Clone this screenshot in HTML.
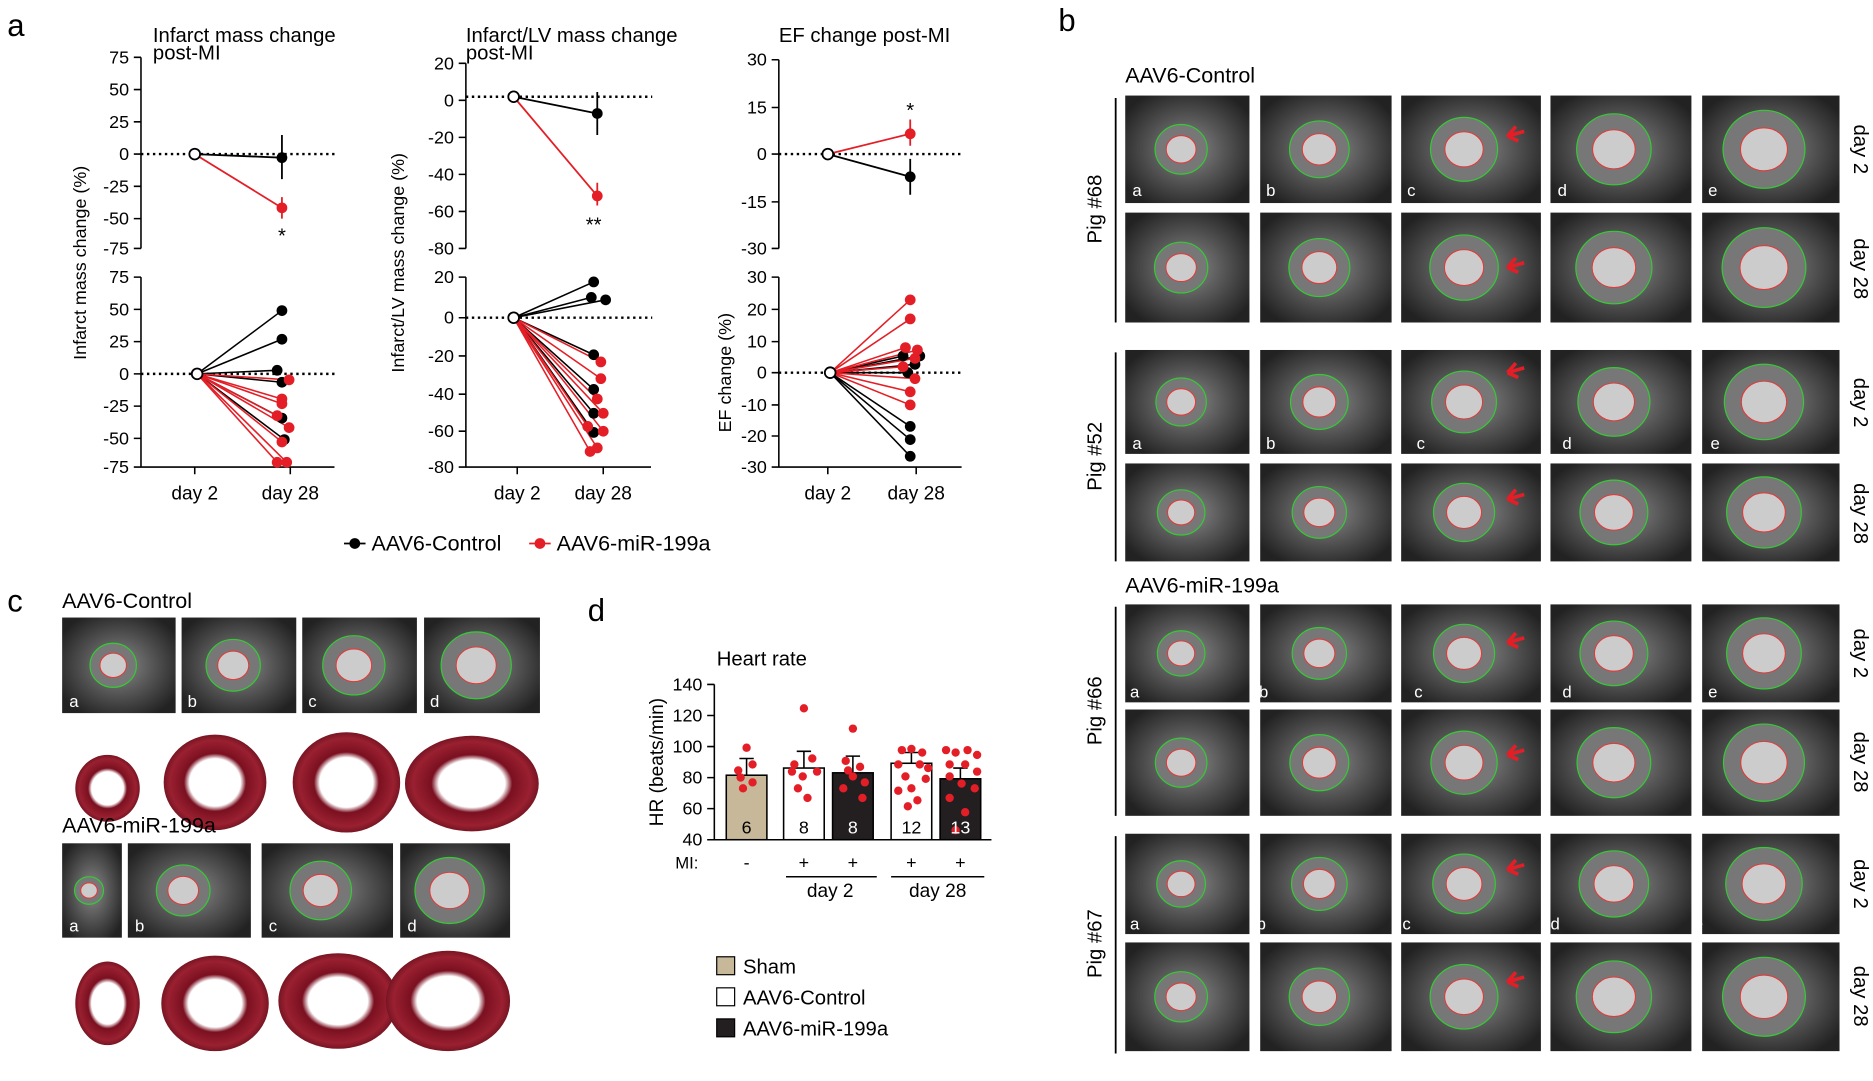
<!DOCTYPE html>
<html><head><meta charset="utf-8">
<style>
html,body{margin:0;padding:0;background:#fff;}
svg{display:block;}
text{font-family:"Liberation Sans",Arial,sans-serif;}
</style></head>
<body>
<svg id="s" width="1873" height="1081" viewBox="0 0 1568 905" xmlns="http://www.w3.org/2000/svg">
<defs>
<radialGradient id="mri" cx="50%" cy="50%" r="60%">
<stop offset="0" stop-color="#8a8a8a"/><stop offset="0.5" stop-color="#555"/><stop offset="1" stop-color="#222"/>
</radialGradient>
<radialGradient id="heart" cx="50%" cy="50%" r="55%">
<stop offset="0" stop-color="#fff"/><stop offset="0.45" stop-color="#fff"/><stop offset="0.55" stop-color="#7a1020"/><stop offset="0.8" stop-color="#9a2030"/><stop offset="1" stop-color="#5a0c18"/>
</radialGradient>
</defs>
<g id="imgs"></g>
<g font-size="17" fill="#000">
<text x="6" y="30" font-size="26">a</text>
<text x="886" y="26" font-size="26">b</text>
<text x="6" y="512" font-size="26">c</text>
<text x="492" y="520" font-size="26">d</text>

<text x="128" y="35">Infarct mass change</text>
<text x="128" y="50">post-MI</text>
<g stroke="#000" stroke-width="1.3" fill="none">
<path d="M118 48V208M112 48h6M112 75h6M112 102h6M112 129h6M112 156h6M112 183h6M112 208h6"/>
<path d="M118 232V391H280M112 232h6M112 259h6M112 286h6M112 313h6M112 340h6M112 367h6M112 391h6M163 391v6M243 391v6"/>
<path d="M118 129H282M118 313H282" stroke-dasharray="2,3" stroke-width="2"/>
</g>
<g font-size="15" text-anchor="end">
<text x="108" y="53">75</text><text x="108" y="80">50</text><text x="108" y="107">25</text><text x="108" y="134">0</text><text x="108" y="161">-25</text><text x="108" y="188">-50</text><text x="108" y="213">-75</text>
<text x="108" y="237">75</text><text x="108" y="264">50</text><text x="108" y="291">25</text><text x="108" y="318">0</text><text x="108" y="345">-25</text><text x="108" y="372">-50</text><text x="108" y="396">-75</text>
</g>
<text x="163" y="418" font-size="16" text-anchor="middle">day 2</text>
<text x="243" y="418" font-size="16" text-anchor="middle">day 28</text>
<text transform="translate(72,220) rotate(-90)" font-size="15" text-anchor="middle">Infarct mass change (%)</text>
<g stroke-width="1.5">
<path d="M163 129L236 132M236 113V150" stroke="#000"/>
<path d="M163 129L236 174M236 165V183" stroke="#e41e26"/>
<circle cx="236" cy="132" r="4.5" fill="#000"/><circle cx="236" cy="174" r="4.5" fill="#e41e26"/>
<circle cx="163" cy="129" r="4.5" fill="#fff" stroke="#000"/>
</g>
<text x="236" y="203" text-anchor="middle">*</text>
<g id="a1b"></g>

<text x="390" y="35">Infarct/LV mass change</text>
<text x="390" y="50">post-MI</text>
<g stroke="#000" stroke-width="1.3" fill="none">
<path d="M390 53V208M384 53h6M384 84h6M384 115h6M384 146h6M384 177h6M384 208h6"/>
<path d="M390 232V391H545M384 232h6M384 266h6M384 298h6M384 330h6M384 361h6M384 391h6M433 391v6M505 391v6"/>
<path d="M390 81H546M390 266H546" stroke-dasharray="2,3" stroke-width="2"/>
</g>
<g font-size="15" text-anchor="end">
<text x="380" y="58">20</text><text x="380" y="89">0</text><text x="380" y="120">-20</text><text x="380" y="151">-40</text><text x="380" y="182">-60</text><text x="380" y="213">-80</text>
<text x="380" y="237">20</text><text x="380" y="271">0</text><text x="380" y="303">-20</text><text x="380" y="335">-40</text><text x="380" y="366">-60</text><text x="380" y="396">-80</text>
</g>
<text x="433" y="418" font-size="16" text-anchor="middle">day 2</text>
<text x="505" y="418" font-size="16" text-anchor="middle">day 28</text>
<text transform="translate(338,220) rotate(-90)" font-size="15" text-anchor="middle">Infarct/LV mass change (%)</text>
<g stroke-width="1.5">
<path d="M430 81L500 95M500 77V113" stroke="#000"/>
<path d="M430 81L500 164M500 153V172" stroke="#e41e26"/>
<circle cx="500" cy="95" r="4.5" fill="#000"/><circle cx="500" cy="164" r="4.5" fill="#e41e26"/>
<circle cx="430" cy="81" r="4.5" fill="#fff" stroke="#000"/>
</g>
<text x="497" y="194" text-anchor="middle">**</text>
<g id="a2b"></g>

<text x="652" y="35">EF change post-MI</text>
<g stroke="#000" stroke-width="1.3" fill="none">
<path d="M652 50V208M646 50h6M646 90h6M646 129h6M646 169h6M646 208h6"/>
<path d="M652 232V391H805M646 232h6M646 259h6M646 286h6M646 312h6M646 339h6M646 365h6M646 391h6M693 391v6M767 391v6"/>
<path d="M652 129H806M652 312H806" stroke-dasharray="2,3" stroke-width="2"/>
</g>
<g font-size="15" text-anchor="end">
<text x="642" y="55">30</text><text x="642" y="95">15</text><text x="642" y="134">0</text><text x="642" y="174">-15</text><text x="642" y="213">-30</text>
<text x="642" y="237">30</text><text x="642" y="264">20</text><text x="642" y="291">10</text><text x="642" y="317">0</text><text x="642" y="344">-10</text><text x="642" y="370">-20</text><text x="642" y="396">-30</text>
</g>
<text x="693" y="418" font-size="16" text-anchor="middle">day 2</text>
<text x="767" y="418" font-size="16" text-anchor="middle">day 28</text>
<text transform="translate(612,312) rotate(-90)" font-size="15" text-anchor="middle">EF change (%)</text>
<g stroke-width="1.5">
<path d="M693 129L762 148M762 133V163" stroke="#000"/>
<path d="M693 129L762 112M762 100V122" stroke="#e41e26"/>
<circle cx="762" cy="148" r="4.5" fill="#000"/><circle cx="762" cy="112" r="4.5" fill="#e41e26"/>
<circle cx="693" cy="129" r="4.5" fill="#fff" stroke="#000"/>
</g>
<text x="762" y="98" text-anchor="middle">*</text>
<g id="a3b"></g>

<path d="M288 455h18" stroke="#000" stroke-width="1.5"/><circle cx="297" cy="455" r="4.5" fill="#000"/>
<text x="311" y="461" font-size="18">AAV6-Control</text>
<path d="M443 455h18" stroke="#e41e26" stroke-width="1.5"/><circle cx="452" cy="455" r="4.5" fill="#e41e26"/>
<text x="466" y="461" font-size="18">AAV6-miR-199a</text>

<text x="942" y="69" font-size="18">AAV6-Control</text>
<text x="942" y="496" font-size="18">AAV6-miR-199a</text>
<g font-size="17" text-anchor="middle">
<text transform="translate(922,175) rotate(-90)">Pig #68</text>
<text transform="translate(922,382) rotate(-90)">Pig #52</text>
<text transform="translate(922,595) rotate(-90)">Pig #66</text>
<text transform="translate(922,790) rotate(-90)">Pig #67</text>
<text transform="translate(1552,125) rotate(90)">day 2</text>
<text transform="translate(1552,225) rotate(90)">day 28</text>
<text transform="translate(1552,337) rotate(90)">day 2</text>
<text transform="translate(1552,430) rotate(90)">day 28</text>
<text transform="translate(1552,547) rotate(90)">day 2</text>
<text transform="translate(1552,638) rotate(90)">day 28</text>
<text transform="translate(1552,740) rotate(90)">day 2</text>
<text transform="translate(1552,834) rotate(90)">day 28</text>
</g>
<g stroke="#000" stroke-width="1.5">
<path d="M934 82V270M934 295V470M934 508V683M934 700V882"/>
</g>

<text x="52" y="509" font-size="18">AAV6-Control</text>
<text x="52" y="697" font-size="18">AAV6-miR-199a</text>

<text x="600" y="557" font-size="17">Heart rate</text>
<g stroke="#000" stroke-width="1.3" fill="none">
<path d="M598 573V703H830M592 573h6M592 599h6M592 625h6M592 651h6M592 677h6M592 703h6"/>
</g>
<g font-size="15" text-anchor="end">
<text x="588" y="578">140</text><text x="588" y="604">120</text><text x="588" y="630">100</text><text x="588" y="656">80</text><text x="588" y="682">60</text><text x="588" y="708">40</text>
</g>
<text transform="translate(555,638) rotate(-90)" font-size="16" text-anchor="middle">HR (beats/min)</text>
<g stroke="#000" stroke-width="1.3">
<rect x="608" y="649" width="34" height="54" fill="#c8b89a"/>
<rect x="656" y="643" width="34" height="60" fill="#fff"/>
<rect x="697" y="647" width="34" height="56" fill="#231f20"/>
<rect x="746" y="639" width="34" height="64" fill="#fff"/>
<rect x="787" y="652" width="34" height="51" fill="#231f20"/>
<path d="M625 649V635M619 635h12M673 643V629M667 629h12M714 647V633M708 633h12M763 639V630M757 630h12M804 652V643M798 643h12" fill="none"/>
</g>
<g id="dd" fill="#e41e26"></g>
<g font-size="15" text-anchor="middle">
<text x="625" y="698">6</text><text x="673" y="698">8</text><text x="714" y="698" fill="#fff">8</text><text x="763" y="698">12</text><text x="804" y="698" fill="#fff">13</text>
<text x="575" y="727" font-size="14">MI:</text>
<text x="625" y="727">-</text><text x="673" y="727">+</text><text x="714" y="727">+</text><text x="763" y="727">+</text><text x="804" y="727">+</text>
<text x="695" y="751" font-size="16">day 2</text><text x="785" y="751" font-size="16">day 28</text>
</g>
<path d="M658 734H734M746 734H824" stroke="#000" stroke-width="1.3"/>
<rect x="600" y="801" width="15" height="15" fill="#c8b89a" stroke="#000"/>
<rect x="600" y="827" width="15" height="15" fill="#fff" stroke="#000"/>
<rect x="600" y="853" width="15" height="15" fill="#231f20" stroke="#000"/>
<text x="622" y="815" font-size="17">Sham</text>
<text x="622" y="841" font-size="17">AAV6-Control</text>
<text x="622" y="867" font-size="17">AAV6-miR-199a</text>

<g id="lets" font-size="14" fill="#fff">
<text x="948" y="164">a</text><text x="1060" y="164">b</text><text x="1178" y="164">c</text><text x="1304" y="164">d</text><text x="1430" y="164">e</text>
<text x="948" y="376">a</text><text x="1060" y="376">b</text><text x="1186" y="376">c</text><text x="1308" y="376">d</text><text x="1432" y="376">e</text>
<text x="946" y="584">a</text><text x="1054" y="584">b</text><text x="1184" y="584">c</text><text x="1308" y="584">d</text><text x="1430" y="584">e</text>
<text x="946" y="778">a</text><text x="1052" y="778">b</text><text x="1174" y="778">c</text><text x="1298" y="778">d</text><text x="1418" y="778">e</text>
<text x="58" y="592">a</text><text x="157" y="592">b</text><text x="258" y="592">c</text><text x="360" y="592">d</text>
<text x="58" y="780">a</text><text x="113" y="780">b</text><text x="225" y="780">c</text><text x="341" y="780">d</text>
</g>
</g>
</svg>
<script>
var NS="http://www.w3.org/2000/svg";
function el(p,t,a){var e=document.createElementNS(NS,t);for(var k in a)e.setAttribute(k,a[k]);p.appendChild(e);return e;}
var G=document.getElementById('imgs');
function mri(x,y,w,h,s){
 el(G,'rect',{x:x,y:y,width:w,height:h,fill:'url(#mri)'});
 var cx=x+w*0.45,cy=y+h*0.5,r=Math.min(w,h)*0.33*(s||1);
 el(G,'ellipse',{cx:cx,cy:cy,rx:r*1.05,ry:r,fill:'#777',stroke:'#3c3',"stroke-width":1});
 el(G,'ellipse',{cx:cx,cy:cy,rx:r*0.6,ry:r*0.55,fill:'#ccc',stroke:'#e33',"stroke-width":0.8});
}
var cols=[[942,104],[1055,110],[1173,117],[1298,118],[1425,115]];
var rows=[[80,90],[178,92],[293,87],[388,82],[506,82],[594,89],[698,84],[789,91]];
rows.forEach(function(r,i){cols.forEach(function(c,j){mri(c[0],r[0],c[1],r[1],0.7+j*0.1);});});
[[517,80],[706,79]].forEach(function(r,i){
 var cs=i==0?[[52,95],[152,96],[253,96],[355,97]]:[[52,50],[107,103],[219,110],[335,92]];
 cs.forEach(function(c,j){mri(c[0],r[0],c[1],r[1],0.7+j*0.12);});
});
[[1262,114],[1262,224],[1262,312],[1262,418],[1262,538],[1262,632],[1262,728],[1262,822]].forEach(function(a){
 el(G,'path',{d:'M'+(a[0]+14)+' '+(a[1]-4)+'L'+a[0]+' '+a[1]+'M'+a[0]+' '+a[1]+'l7 -8M'+a[0]+' '+a[1]+'l9 4',stroke:'#e41e26','stroke-width':3,fill:'none'});
});
[[[90,660,27,28],[180,655,43,40],[290,655,45,42],[395,656,56,40]],[[90,840,27,35],[180,840,45,40],[283,838,50,40],[375,838,52,42]]].forEach(function(r){
 r.forEach(function(h){el(G,'ellipse',{cx:h[0],cy:h[1],rx:h[2],ry:h[3],fill:'url(#heart)'});});
});
function spag(id,ox,oy,pts){
 var g=document.getElementById(id);
 pts.forEach(function(p){el(g,'line',{x1:ox,y1:oy,x2:p[0],y2:p[1],stroke:p[2],'stroke-width':1.3});});
 pts.forEach(function(p){el(g,'circle',{cx:p[0],cy:p[1],r:4.5,fill:p[2]});});
 el(g,'circle',{cx:ox,cy:oy,r:4.5,fill:'#fff',stroke:'#000','stroke-width':1.5});
}
var K='#000',R='#e41e26';
spag('a1b',165,313,[[236,260,K],[236,284,K],[232,310,K],[236,320,K],[236,350,K],[238,368,K],[242,318,R],[236,334,R],[232,348,R],[242,358,R],[236,370,R],[232,387,R],[240,387,R],[236,338,R]]);
spag('a2b',430,266,[[497,236,K],[495,249,K],[507,251,K],[497,297,K],[497,326,K],[497,346,K],[497,362,K],[503,303,R],[503,317,R],[500,334,R],[505,346,R],[492,357,R],[505,361,R],[494,378,R],[500,375,R]]);
spag('a3b',695,312,[[756,298,K],[770,298,K],[766,305,K],[760,312,K],[762,357,K],[762,368,K],[762,382,K],[762,251,R],[762,267,R],[758,291,R],[768,293,R],[766,300,R],[756,307,R],[766,317,R],[762,328,R],[762,339,R]]);
var dd=document.getElementById('dd');
[[625,626],[620,651],[630,655],[622,660],[630,640],[618,645],
 [673,593],[665,640],[680,635],[668,660],[676,668],[672,650],[684,646],[663,646],
 [714,610],[708,637],[720,642],[706,660],[722,668],[714,650],[724,655],[710,645],
 [755,628],[763,627],[772,630],[752,640],[770,640],[758,650],[775,652],[763,660],[752,662],[768,670],[760,675],[777,643],
 [792,628],[800,630],[810,628],[818,632],[795,640],[808,640],[818,646],[795,650],[805,656],[816,660],[795,668],[808,680],[800,695]
].forEach(function(p){el(dd,'circle',{cx:p[0],cy:p[1],r:3.5});});
</script>
</body></html>
